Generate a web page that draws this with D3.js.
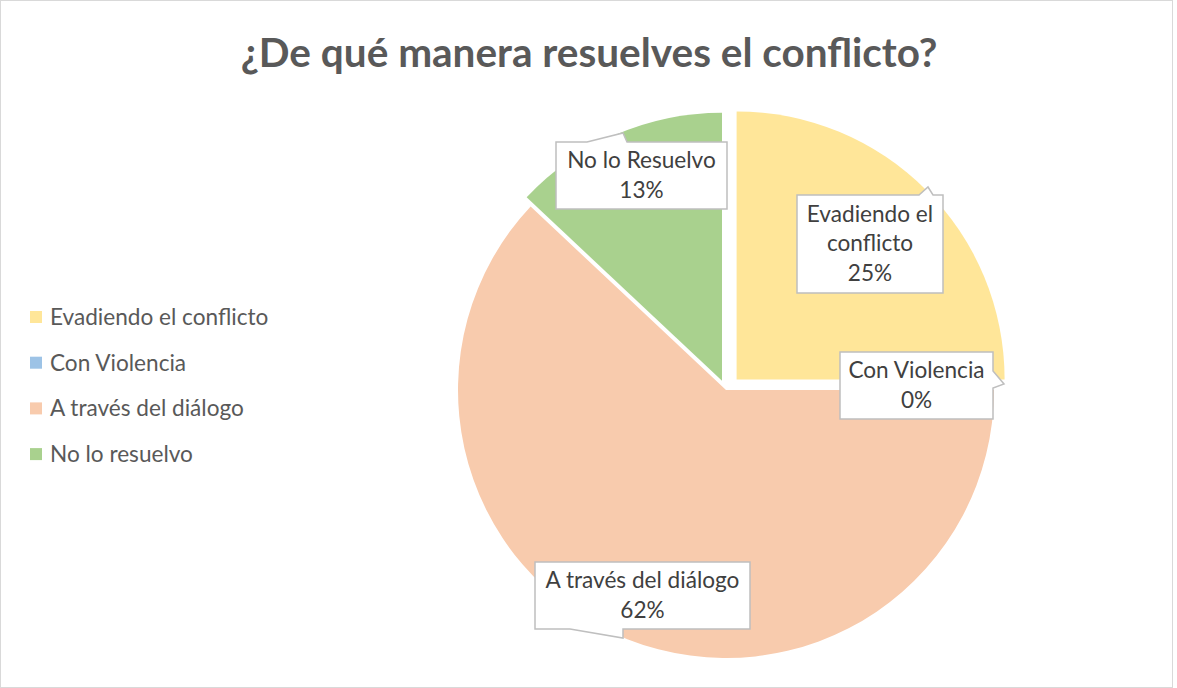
<!DOCTYPE html>
<html>
<head>
<meta charset="utf-8">
<script src="https://cdn.jsdelivr.net/npm/d3@7"></script>
<style>
  html, body { margin: 0; padding: 0; background: #fff; }
  svg { display: block; }
</style>
</head>
<body>
<svg id="chart" width="1177" height="688"></svg>
<script>
// ---- data ----
const title = "¿De qué manera resuelves el conflicto?";
const categories = ["Evadiendo el conflicto", "Con Violencia", "A través del diálogo", "No lo resuelvo"];
const dataLabelNames = ["Evadiendo el conflicto", "Con Violencia", "A través del diálogo", "No lo Resuelvo"];
const percentages = [25, 0, 62, 13];
const colors = ["#FFE699", "#9DC3E6", "#F8CBAD", "#A9D18E"];

// ---- layout (style only) ----
const W = 1177, H = 688;
const cx = 726, cy = 390, R = 268;
const explode = [15, 0, 0, 10];
const fontFamily = "Lato, 'Liberation Sans', sans-serif";
const labelFont = 22.6;
// label boxes: x, y, w, h, text lines wrapping, pointer polygon points (absolute)
const labelBoxes = [
  { x: 797, y: 195, w: 146, h: 98, lines: ["Evadiendo el", "conflicto"], ptr: { side: "top", pts: [[919,195],[928,187],[933,195]] } },
  { x: 840, y: 352, w: 153, h: 67, lines: ["Con Violencia"], ptr: { side: "right", pts: [[993,371],[1004,384],[993,388]] } },
  { x: 535, y: 562, w: 215, h: 67, lines: ["A través del diálogo"], ptr: { side: "bottom", pts: [[623,629],[623,638],[570,629]] } },
  { x: 556, y: 142, w: 171, h: 67, lines: ["No lo Resuelvo"], ptr: { side: "top", pts: [[587,142],[623,133],[627,142]] } }
];

const svg = d3.select("#chart");

// background & border
svg.append("rect").attr("x", 0.5).attr("y", 0.5).attr("width", W - 5).attr("height", H - 1)
  .attr("fill", "#fff").attr("stroke", "#d9d9d9").attr("stroke-width", 1);

// title
svg.append("text")
  .attr("x", 589).attr("y", 67)
  .attr("text-anchor", "middle")
  .attr("font-family", fontFamily)
  .attr("font-weight", "bold")
  .attr("font-size", 40.5)
  .attr("fill", "#595959")
  .text(title);

// pie
const data = categories.map((c, i) => ({ name: c, label: dataLabelNames[i], value: percentages[i], color: colors[i], i }));
const pie = d3.pie().sort(null).value(d => d.value).startAngle(0).endAngle(2 * Math.PI);
const arcs = pie(data);
const arc = d3.arc().innerRadius(0).outerRadius(R);

const g = svg.append("g").attr("transform", `translate(${cx},${cy})`);
g.selectAll("path.slice")
  .data(arcs.filter(a => a.data.value > 0))
  .join("path")
  .attr("class", "slice")
  .attr("d", arc)
  .attr("fill", d => d.data.color)
  .attr("transform", d => {
    const a = (d.startAngle + d.endAngle) / 2;
    const e = explode[d.data.i];
    return `translate(${Math.sin(a) * e},${-Math.cos(a) * e})`;
  });

// data labels (callouts)
arcs.forEach((a, i) => {
  const b = labelBoxes[i];
  const x0 = b.x, y0 = b.y, x1 = b.x + b.w, y1 = b.y + b.h;
  let pts;
  const p = b.ptr.pts;
  if (b.ptr.side === "top") {
    pts = [[x0, y0], p[0], p[1], p[2], [x1, y0], [x1, y1], [x0, y1]];
  } else if (b.ptr.side === "right") {
    pts = [[x0, y0], [x1, y0], p[0], p[1], p[2], [x1, y1], [x0, y1]];
  } else if (b.ptr.side === "bottom") {
    pts = [[x0, y0], [x1, y0], [x1, y1], p[0], p[1], p[2], [x0, y1]];
  }
  svg.append("path")
    .attr("d", "M" + pts.map(q => q.join(",")).join("L") + "Z")
    .attr("fill", "#fff")
    .attr("stroke", "#bfbfbf")
    .attr("stroke-width", 1.5);
  const lines = b.lines.concat([d3.format(".0%")(a.data.value / 100)]);
  const lh = 29.5;
  const totalH = lh * lines.length;
  const t = svg.append("text")
    .attr("text-anchor", "middle")
    .attr("font-family", fontFamily)
    .attr("font-size", labelFont)
    .attr("fill", "#404040");
  lines.forEach((ln, k) => {
    t.append("tspan")
      .attr("x", b.x + b.w / 2)
      .attr("y", b.y + b.h / 2 - totalH / 2 + lh * k + 22)
      .text(ln);
  });
});

// legend
const legend = svg.append("g").attr("transform", "translate(30,317)");
const items = legend.selectAll("g.item").data(data).join("g")
  .attr("class", "item")
  .attr("transform", (d, i) => `translate(0,${i * 45.7})`);
items.append("rect").attr("x", 0).attr("y", -6).attr("width", 12).attr("height", 12)
  .attr("fill", d => d.color);
items.append("text").attr("x", 20).attr("y", 8)
  .attr("font-family", fontFamily).attr("font-size", labelFont).attr("fill", "#595959")
  .text(d => d.name);
</script>
</body>
</html>
